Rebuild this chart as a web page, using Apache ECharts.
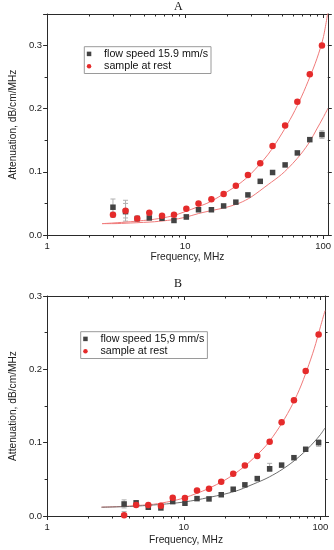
<!DOCTYPE html>
<html><head><meta charset="utf-8">
<script src="https://cdn.jsdelivr.net/npm/echarts@6/dist/echarts.min.js"></script>
<style>html,body{margin:0;padding:0;background:#fff}#c{width:334px;height:550px}</style>
</head><body><div id="c"></div>
<script>
// ---- Data ----
const freqA = [3.0, 3.7, 4.5, 5.5, 6.8, 8.3, 10.2, 12.5, 15.5, 19, 23.3, 28.5, 35, 43, 53, 65, 80, 98];
const flowA = [0.044, 0.037, 0.026, 0.027, 0.0265, 0.023, 0.0286, 0.040, 0.040, 0.046, 0.052, 0.0635, 0.085, 0.099, 0.111, 0.130, 0.151, 0.159];
const restA = [0.032, 0.0386, 0.026, 0.0354, 0.0306, 0.032, 0.0417, 0.050, 0.0566, 0.065, 0.0778, 0.0952, 0.1138, 0.1408, 0.1735, 0.2111, 0.2545, 0.300];

const freqB = [3.66, 4.48, 5.5, 6.8, 8.3, 10.2, 12.5, 15.3, 18.8, 23, 28, 34.5, 42.5, 52, 64, 78, 97];
const flowB = [0.0164, 0.018, 0.0119, 0.011, 0.0196, 0.0174, 0.0237, 0.0233, 0.029, 0.0365, 0.0425, 0.051, 0.0644, 0.0694, 0.0795, 0.091, 0.100];
const restB = [0.001, 0.015, 0.015, 0.014, 0.025, 0.0247, 0.0347, 0.037, 0.0466, 0.0575, 0.0689, 0.0818, 0.1014, 0.128, 0.158, 0.1977, 0.2475];

// fitted curves
const fitFreq  = [2.5, 3, 4, 5, 6, 8, 10, 12.5, 15, 20, 25, 30, 40, 50, 60, 70, 80, 90, 100, 108];
const fitRestA = [0.018, 0.019, 0.021, 0.023, 0.025, 0.030, 0.037, 0.045, 0.052, 0.068, 0.082, 0.097, 0.128, 0.160, 0.190, 0.220, 0.250, 0.279, 0.312, 0.352];
const fitFlowA = [0.018, 0.018, 0.019, 0.020, 0.021, 0.024, 0.028, 0.034, 0.038, 0.044, 0.051, 0.060, 0.080, 0.096, 0.113, 0.130, 0.148, 0.168, 0.186, 0.200];
const fitRestB = [0.012, 0.0125, 0.0135, 0.0148, 0.016, 0.020, 0.0245, 0.031, 0.037, 0.049, 0.061, 0.073, 0.096, 0.121, 0.146, 0.172, 0.200, 0.228, 0.258, 0.280];
const fitFlowB = [0.012, 0.0123, 0.013, 0.014, 0.015, 0.017, 0.019, 0.022, 0.025, 0.030, 0.035, 0.041, 0.051, 0.061, 0.071, 0.081, 0.091, 0.101, 0.111, 0.120];

// error bars [freq, low, high]
const errFlowA = [[3.0, 0.031, 0.057], [3.7, 0.027, 0.050], [10.2, 0.025, 0.032], [98, 0.153, 0.165]];
const errRestA = [[3.0, 0.028, 0.036], [3.7, 0.022, 0.055], [4.5, 0.022, 0.030]];
const errFlowB = [[3.66, 0.011, 0.022], [42.5, 0.0607, 0.0718], [97, 0.095, 0.104]];
const errRestB = [[3.66, 0.0, 0.006]];

const minorX = [2, 3, 4, 5, 6, 7, 8, 9, 20, 30, 40, 50, 60, 70, 80, 90];

// ---- Styling ----
const FONT = 'Liberation Sans';
const AX = '#2a2a2a';
const RED = '#e52b2b';
const GRAY = '#434343';
const FITRED = '#f07a7a';
const FITGRAY = '#6e6e6e';
const ERR = '#b0b0b0';

const chart = echarts.init(document.getElementById('c'), null, {renderer: 'canvas'});

function zip(xs, ys) { return xs.map((x, i) => [x, ys[i]]); }

function minorTickSeries(gi, ymin, ymax) {
  return {
    type: 'custom', xAxisIndex: gi * 2, yAxisIndex: gi * 2, clip: false, silent: true, z: 5,
    data: minorX.map(x => [x]),
    renderItem: function (params, api) {
      const b = api.coord([api.value(0), ymin]);
      const t = api.coord([api.value(0), ymax]);
      const x = Math.round(b[0]) + 0.5;
      return {type: 'group', children: [
        {type: 'line', shape: {x1: x, y1: b[1], x2: x, y2: b[1] + 2.5}, style: {stroke: AX, lineWidth: 1}},
        {type: 'line', shape: {x1: x, y1: t[1], x2: x, y2: t[1] + 2.5}, style: {stroke: AX, lineWidth: 1}}
      ]};
    }
  };
}

function errSeries(gi, data) {
  return {
    type: 'custom', xAxisIndex: gi * 2, yAxisIndex: gi * 2, silent: true, z: 1,
    data: data,
    renderItem: function (params, api) {
      const lo = api.coord([api.value(0), api.value(1)]);
      const hi = api.coord([api.value(0), api.value(2)]);
      const x = lo[0];
      return {type: 'group', children: [
        {type: 'line', shape: {x1: x, y1: lo[1], x2: x, y2: hi[1]}, style: {stroke: ERR, lineWidth: 1}},
        {type: 'line', shape: {x1: x - 2.5, y1: lo[1], x2: x + 2.5, y2: lo[1]}, style: {stroke: ERR, lineWidth: 1}},
        {type: 'line', shape: {x1: x - 2.5, y1: hi[1], x2: x + 2.5, y2: hi[1]}, style: {stroke: ERR, lineWidth: 1}}
      ]};
    }
  };
}

function xAxes(gi) {
  const common = {
    type: 'log', logBase: 10, min: 1, max: 108, gridIndex: gi,
    axisLine: {show: true, onZero: false, lineStyle: {color: AX, width: 1}},
    splitLine: {show: false}, minorTick: {show: false}, minorSplitLine: {show: false}
  };
  return [
    Object.assign({}, common, {
      position: 'bottom',
      axisTick: {show: true, length: 4, inside: false, lineStyle: {color: AX}},
      axisLabel: {show: true, margin: 6, fontSize: 9.5, fontFamily: FONT, color: '#222', showMaxLabel: false,
        formatter: v => String(Math.round(v))},
      name: 'Frequency, MHz', nameLocation: 'middle', nameGap: gi === 0 ? 17.5 : 19.5,
      nameTextStyle: {fontSize: 10.2, fontFamily: FONT, color: '#222'}
    }),
    Object.assign({}, common, {
      position: 'top',
      axisTick: {show: true, length: 4, inside: true, lineStyle: {color: AX}},
      axisLabel: {show: false}
    })
  ];
}

function yAxes(gi, max) {
  const common = {
    type: 'value', min: 0, max: max, interval: 0.1, gridIndex: gi,
    axisLine: {show: true, onZero: false, lineStyle: {color: AX, width: 1}},
    splitLine: {show: false},
    minorTick: {show: true, splitNumber: 2, length: 2.5, lineStyle: {color: AX}},
    minorSplitLine: {show: false}
  };
  return [
    Object.assign({}, common, {
      position: 'left',
      axisTick: {show: true, length: 4, inside: false, lineStyle: {color: AX}},
      axisLabel: {show: true, margin: 5, fontSize: 9.5, fontFamily: FONT, color: '#222', showMaxLabel: max === 0.3,
        formatter: v => v.toFixed(1)},
      name: 'Attenuation, dB/cm/MHz', nameLocation: 'middle', nameGap: gi === 0 ? 27.5 : 22.5,
      nameTextStyle: {fontSize: 10.2, fontFamily: FONT, color: '#222'}
    }),
    Object.assign({}, common, {
      position: 'right',
      axisTick: {show: true, length: 4, inside: false, lineStyle: {color: AX}},
      axisLabel: {show: false}
    })
  ];
}

function legend(left, top, names) {
  return {
    orient: 'vertical', left: left, top: top, align: 'left',
    padding: [1, 3, 1, 2.5], itemGap: 0, itemWidth: 20, itemHeight: 4.5,
    borderColor: '#9a9a9a', borderWidth: 1, backgroundColor: '#fff',
    symbolKeepAspect: true, selectedMode: false,
    textStyle: {fontSize: 10.7, fontFamily: FONT, color: '#111', lineHeight: 12.4},
    data: [
      {name: names[0], icon: 'path://M0,0h10v10h-10z', itemStyle: {color: GRAY}},
      {name: names[1], icon: 'circle', itemStyle: {color: RED}}
    ]
  };
}

const flowNameA = 'flow speed 15.9 mm/s';
const flowNameB = 'flow speed 15,9 mm/s';
const restName = 'sample at rest';

function scatter(gi, name, data, color, symbol, size) {
  return {
    type: 'scatter', name: name, xAxisIndex: gi * 2, yAxisIndex: gi * 2, z: 3,
    symbol: symbol, symbolSize: size, itemStyle: {color: color, opacity: 1},
    data: data
  };
}
function fit(gi, data, color) {
  return {
    type: 'line', xAxisIndex: gi * 2, yAxisIndex: gi * 2, z: 2, smooth: 0.3, showSymbol: false,
    symbol: 'none', silent: true, clip: true,
    lineStyle: {color: color, width: 1}, data: data
  };
}

const option = {
  animation: false,
  backgroundColor: '#fff',
  title: [
    {text: 'A', left: 174, top: 0.5, padding: 0, textStyle: {fontFamily: 'Liberation Serif', fontSize: 12, fontWeight: 'normal', color: '#111'}},
    {text: 'B', left: 174, top: 277.5, padding: 0, textStyle: {fontFamily: 'Liberation Serif', fontSize: 12, fontWeight: 'normal', color: '#111'}}
  ],
  grid: [
    {left: 41, right: 6, top: 14, height: 221},
    {left: 39.3, right: 9, top: 296, height: 220}
  ],
  xAxis: [...xAxes(0), ...xAxes(1)],
  yAxis: [...yAxes(0, 0.35), ...yAxes(1, 0.3)],
  legend: [
    legend(84.3, 46.7, [flowNameA, restName]),
    legend(80.7, 331.7, [flowNameB, restName])
  ],
  series: [
    minorTickSeries(0, 0, 0.35),
    minorTickSeries(1, 0, 0.3),
    errSeries(0, errFlowA), errSeries(0, errRestA),
    errSeries(1, errFlowB), errSeries(1, errRestB),
    fit(0, zip(fitFreq, fitRestA), FITRED),
    fit(0, zip(fitFreq, fitFlowA), FITRED),
    fit(1, zip(fitFreq, fitRestB), FITRED),
    fit(1, zip(fitFreq, fitFlowB), FITGRAY),
    scatter(0, flowNameA, zip(freqA, flowA), GRAY, 'rect', 5.5),
    scatter(0, restName, zip(freqA, restA), RED, 'circle', 6.5),
    scatter(1, flowNameB, zip(freqB, flowB), GRAY, 'rect', 5.5),
    scatter(1, restName, zip(freqB, restB), RED, 'circle', 6.5)
  ]
};
chart.setOption(option);
</script>
</body></html>
